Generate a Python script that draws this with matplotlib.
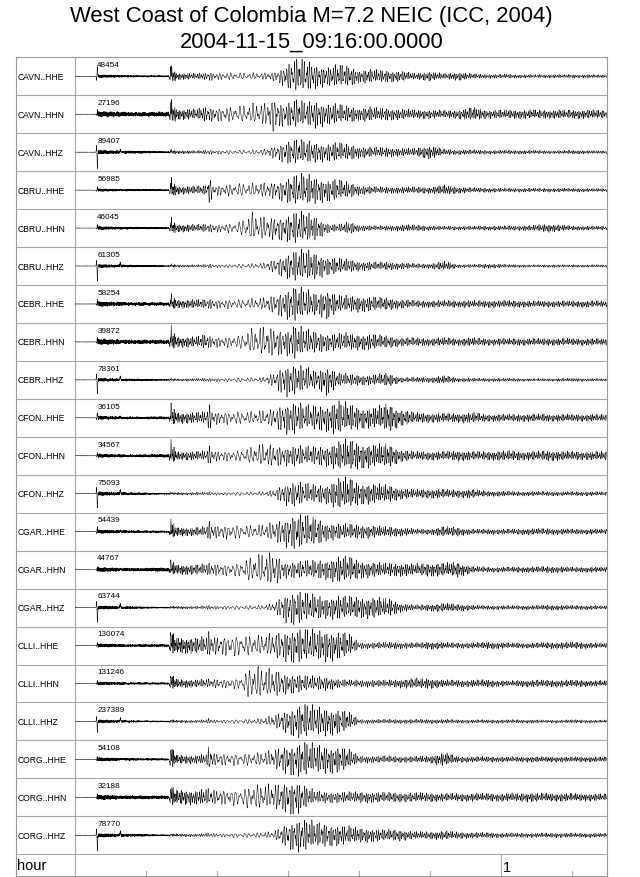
#!/usr/bin/env python3
# -*- coding: utf-8 -*-
"""
Sismogramas de 21 canais (estações C***) do sismo da costa oeste da Colômbia,
2004-11-15.  Cada traço é normalizado pelo seu máximo; o número acima do
traço é a amplitude máxima em contagens.

As amostras individuais não se leem na figura: guardam-se os envelopes lidos
(amplitude relativa por janela de tempo), os pulsos das fases P / PP e o
período dominante; o traço é montado a partir deles.
Saída: out.png
"""
import numpy as np
import matplotlib
matplotlib.use('Agg')
import matplotlib.pyplot as plt

plt.rcParams['font.family'] = ['Liberation Sans', 'DejaVu Sans']

STATIONS = ['CAVN..HHE', 'CAVN..HHN', 'CAVN..HHZ',
            'CBRU..HHE', 'CBRU..HHN', 'CBRU..HHZ',
            'CEBR..HHE', 'CEBR..HHN', 'CEBR..HHZ',
            'CFON..HHE', 'CFON..HHN', 'CFON..HHZ',
            'CGAR..HHE', 'CGAR..HHN', 'CGAR..HHZ',
            'CLLI..HHE', 'CLLI..HHN', 'CLLI..HHZ',
            'CORG..HHE', 'CORG..HHN', 'CORG..HHZ']
AMP_LABELS = ['48454', '27196', '89407', '56985', '46045', '61305', '58254',
              '39872', '78361', '36105', '34567', '75093', '54439', '44767',
              '63744', '130074', '131246', '237389', '54108', '32188', '78770']

# tempos de fase (minutos depois de 09:16:00)
T_P = 3.06
T_PP = 6.3
T_S = 13.42
# pulso na chegada P (sinal = sentido do primeiro grande desvio)
P_SPIKE = [0.7, 0.2, -1.0, 0.2, 0.15, -1.0, 0.2, 0.2, -1.0, 0.3, 0.15, -1.0,
           0.3, 0.15, -1.0, 0.15, 0.15, -0.8, 0.2, 0.2, -1.0]
PP_PULSE = [0.05, 0.0, 0.15, 0.05, 0.0, 0.25, 0.05, 0.0, 0.25, 0.08, 0.0, 0.25,
            0.1, 0.05, 0.25, 0.0, 0.0, 0.22, 0.05, 0.0, 0.22]
# amplitude da coda de alta frequência logo após P
P_CODA = [0.1, 0.2, 0.12, 0.1, 0.12, 0.12, 0.16, 0.2, 0.12, 0.12, 0.12, 0.12,
          0.12, 0.16, 0.12, 0.12, 0.1, 0.1, 0.12, 0.16, 0.12]

# envelope relativo (1 = máximo do traço) nos tempos ENV_T
ENV_T = [12, 13.3, 13.55, 14.3, 17, 18.5, 18.9, 19.4, 21, 23, 25, 26.5, 28, 29.5,
         31, 32.5, 34, 35.5, 37, 38.5, 40, 42, 44, 46, 48, 50, 52, 54, 56, 58,
         61, 64, 67, 70, 73, 75]
ENVELOPES = [
    [.05, .05, .55, .2, .18, .2, .3, .2, .2, .2, .2, .2, .25, .6, 1.0, .95, .7, .55,
     .7, .6, .4, .4, .35, .3, .18, .28, .15, .25, .15, .12, .12, .1, .1, .1, .1, .08],
    [.14, .14, .75, .3, .3, .45, .4, .4, .4, .45, .6, .6, .95, .6, .85, .7, .8, .6,
     .6, .45, .4, .4, .35, .3, .25, .25, .22, .25, .4, .25, .25, .25, .25, .25, .25, .22],
    [.05, .05, .12, .08, .08, .1, .12, .1, .1, .1, .12, .15, .3, .55, .65, .6, .5, .45,
     .5, .4, .3, .25, .25, .2, .2, .35, .15, .12, .12, .1, .1, .1, .08, .1, .08, .08],
    [.05, .05, .6, .25, .25, .3, .95, .3, .35, .4, .4, .45, .5, .7, .95, 1.0, .8, .7,
     .65, .5, .3, .22, .2, .2, .2, .2, .3, .2, .15, .14, .12, .12, .12, .12, .1, .1],
    [.06, .06, .5, .25, .22, .25, .25, .25, .25, .35, .9, .7, .7, .75, 1.0, .95, .7, .3,
     .2, .4, .2, .15, .15, .2, .2, .14, .12, .12, .12, .14, .14, .16, .25, .14, .12, .12],
    [.04, .04, .1, .08, .08, .1, .15, .1, .1, .12, .14, .18, .4, .7, .95, 1.0, .8, .55,
     .5, .4, .3, .25, .25, .2, .15, .15, .3, .1, .1, .15, .1, .08, .08, .08, .08, .08],
    [.1, .1, .4, .25, .25, .25, .3, .25, .25, .25, .3, .35, .5, .8, 1.0, .85, .6, .85,
     .5, .45, .45, .4, .35, .25, .2, .2, .2, .2, .2, .2, .2, .18, .18, .18, .18, .18],
    [.12, .12, .7, .3, .3, .45, .35, .3, .3, .35, .75, .85, .8, .7, 1.0, .75, .6, .5,
     .5, .5, .45, .45, .35, .25, .25, .22, .25, .2, .25, .2, .2, .2, .2, .2, .2, .2],
    [.04, .04, .08, .07, .08, .1, .1, .1, .1, .12, .12, .15, .4, .95, .85, .75, .5, .9,
     .4, .35, .3, .3, .4, .15, .15, .15, .25, .12, .1, .1, .1, .08, .08, .1, .08, .08],
    [.08, .08, .6, .3, .3, .35, .8, .35, .35, .35, .35, .4, .5, .85, .9, .7, .7, .75,
     .95, .8, .6, .55, .8, .45, .3, .25, .25, .25, .3, .2, .2, .22, .2, .2, .2, .18],
    [.1, .1, .7, .25, .25, .3, .6, .3, .3, .3, .5, .7, .6, .55, .6, .55, .55, .6,
     .8, .95, .75, .65, .7, .35, .25, .25, .25, .3, .25, .25, .3, .25, .3, .25, .25, .25],
    [.04, .04, .08, .07, .08, .08, .1, .08, .08, .1, .1, .12, .2, .6, .7, .6, .5, .55,
     .85, .9, .6, .55, .5, .3, .25, .25, .25, .22, .25, .15, .14, .12, .12, .12, .12, .1],
    [.06, .06, .6, .25, .25, .3, .6, .35, .4, .4, .35, .4, .55, .8, 1.0, .95, .8, .5,
     .45, .45, .4, .35, .3, .25, .16, .15, .3, .25, .15, .15, .15, .18, .18, .15, .15, .14],
    [.12, .12, .5, .3, .3, .35, .4, .35, .35, .4, .8, .95, 1.0, .5, .5, .55, .55, .6,
     .8, .8, .55, .45, .4, .4, .35, .4, .4, .45, .2, .16, .16, .18, .2, .16, .16, .15],
    [.04, .04, .08, .08, .08, .1, .12, .1, .1, .12, .12, .14, .25, .8, 1.0, .85, .7, .6,
     .7, .65, .6, .6, .55, .25, .15, .2, .25, .2, .15, .12, .12, .12, .15, .12, .12, .1],
    [.08, .08, .8, .45, .45, .5, .85, .5, .55, .6, .55, .6, .7, .85, 1.0, .95, .85, .9,
     .8, .7, .18, .18, .2, .18, .16, .22, .18, .16, .16, .2, .16, .15, .18, .2, .16, .15],
    [.06, .06, .5, .25, .22, .25, .25, .25, .25, .3, 1.0, .85, .8, .6, .55, .45, .4, .4,
     .25, .2, .2, .2, .2, .25, .3, .3, .2, .2, .2, .22, .15, .2, .2, .2, .18, .15],
    [.04, .04, .1, .08, .08, .1, .2, .1, .1, .12, .14, .18, .35, .6, .9, 1.0, .85, .8,
     .7, .55, .12, .12, .12, .12, .12, .12, .12, .1, .1, .1, .1, .1, .08, .1, .08, .08],
    [.06, .06, .7, .25, .25, .3, .95, .35, .35, .35, .35, .4, .55, .8, .95, 1.0, .85, .8,
     .75, .6, .22, .2, .2, .18, .18, .2, .4, .18, .16, .16, .15, .16, .16, .15, .15, .14],
    [.1, .1, .6, .4, .4, .45, .5, .4, .4, .45, .65, .7, .7, .8, 1.0, .6, .35, .3,
     .3, .3, .3, .3, .28, .25, .25, .25, .22, .22, .22, .22, .22, .25, .22, .22, .2, .2],
    [.04, .04, .08, .08, .08, .1, .12, .1, .1, .12, .12, .15, .2, .55, .9, .85, .7, .6,
     .55, .5, .4, .35, .3, .3, .2, .2, .25, .18, .15, .15, .12, .12, .12, .12, .12, .1],
]

# período dominante (s) ao longo do registo
PERIOD_T = [0, 12, 13.2, 13.6, 18, 23, 27, 30, 35, 40, 50, 75]
PERIOD_S = [2.5, 4, 6, 12, 18, 40, 30, 22, 20, 18, 16, 15]

T_END = 75.0
HOUR_TICKS = [10, 20, 30, 40, 50, 70]

# geometria (px da figura 640x878)
W, H = 640, 878
FR_L, FR_R, FR_T, FR_B = 16, 606.7, 58.3, 876.7
X0 = 75.3            # início do eixo do tempo
PX_PER_MIN = 425.5 / 60
ROW_H = 37.95


def pulso(ts, t0, A, s=2.5):
    tau = ts - t0 * 60
    return A * np.exp(-(tau - s) ** 2 / (2 * s * s)) - 0.5 * A * np.exp(-(tau + s) ** 2 / (2 * s * s))


def traco(i, t):
    ts = t * 60.0
    per = np.interp(t, PERIOD_T, PERIOD_S)
    fase = 2 * np.pi * np.cumsum(1.0 / per)
    port = (np.sin(fase + 0.3 * i) + 0.6 * np.sin(1.37 * fase + 0.7 + 0.5 * i)
            + 0.4 * np.sin(2.31 * fase + 1.9 + 0.9 * i))
    port /= np.abs(port).max()
    pc = P_CODA[i]
    kt = [0, T_P - 0.02, T_P + 0.02, 5, 8] + ENV_T
    ka = [0.006, 0.006, pc, 0.8 * pc, 0.6 * pc] + ENVELOPES[i]
    sig = 1.25 * np.interp(t, kt, ka) * port
    sig += pulso(ts, T_P, P_SPIKE[i])
    # chegada S: pulso com a amplitude lida no envelope
    sig += pulso(ts, T_S, 0.8 * ENVELOPES[i][2], s=4)
    tau = ts - T_PP * 60
    sig += PP_PULSE[i] * np.exp(-(tau - 3) ** 2 / 18)
    return sig / max(1.0, np.abs(sig).max())


def main():
    fig = plt.figure(figsize=(W / 100, H / 100), dpi=100)
    ax = fig.add_axes([FR_L / W, 1 - FR_B / H, (FR_R - FR_L) / W, (FR_B - FR_T) / H])
    n = len(STATIONS)
    hour_h = (FR_B - FR_T) / ROW_H - n
    ax.set_xlim((FR_L - X0) / PX_PER_MIN, (FR_R - X0) / PX_PER_MIN)
    ax.set_ylim(-n - hour_h, 0)
    ax.set_xticks([]); ax.set_yticks([])
    for s in ax.spines.values():
        s.set_color('#9a9a9a'); s.set_linewidth(0.8)

    grey = '#a8a8a8'
    for k in range(1, n + 1):
        ax.axhline(-k, color=grey, lw=0.8)
    ax.axvline(0, color=grey, lw=0.8)
    ax.plot([60, 60], [-n - hour_h, -n], color=grey, lw=0.8)
    for m in HOUR_TICKS:
        ax.plot([m, m], [-n - hour_h, -n - hour_h + 0.13], color=grey, lw=0.8)

    t = np.arange(0, T_END * 60 + 1, 1.0) / 60.0
    xlab = (17.3 - X0) / PX_PER_MIN
    for i, nome in enumerate(STATIONS):
        yc = -(i + 0.5)
        ax.plot(t, yc + 0.45 * traco(i, t), color='black', lw=0.35)
        ax.text(xlab, yc, nome, fontsize=6.2, va='center', ha='left')
        ax.text(T_P + 0.05, -i - 0.1, AMP_LABELS[i], fontsize=5.9, va='top', ha='left')

    ax.text(xlab, -n - hour_h + 0.18, 'hour', fontsize=10.5, va='baseline', ha='left')
    ax.text(60.3, -n - hour_h + 0.12, '1', fontsize=10.5, va='baseline', ha='left')

    fig.text(311.5 / W, 1 - 22 / H, 'West Coast of Colombia M=7.2 NEIC (ICC, 2004)',
             fontsize=15.8, ha='center', va='baseline')
    fig.text(311.5 / W, 1 - 47.7 / H, '2004-11-15_09:16:00.0000',
             fontsize=15.8, ha='center', va='baseline')
    fig.savefig('out.png', dpi=100)
    plt.close(fig)


if __name__ == '__main__':
    main()
